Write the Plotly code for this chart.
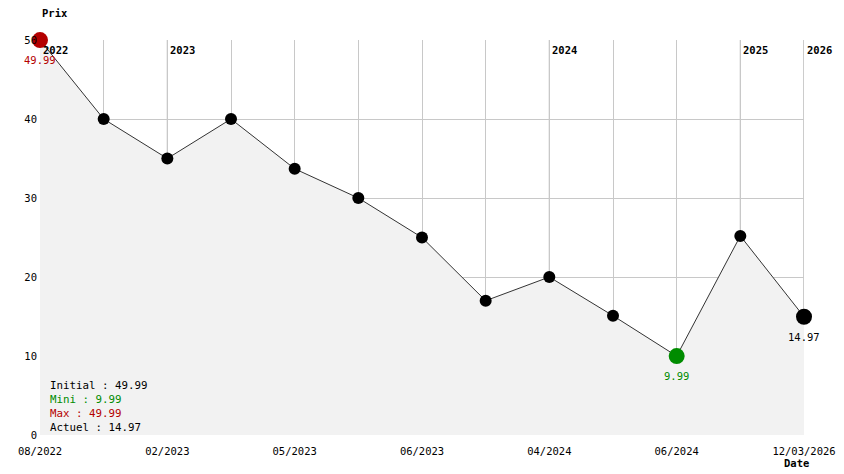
import plotly.graph_objects as go

# price history (one point per observation, evenly spaced)
prices = [49.99, 40, 35, 40, 33.7, 30, 25, 17, 20, 15.1, 9.99, 25.2, 14.97]
tick_labels = ["08/2022", "", "02/2023", "", "05/2023", "", "06/2023", "",
               "04/2024", "", "06/2024", "", "12/03/2026"]
years = ["2022", "2023", "2024", "2025", "2026"]
year_idx = [0, 2, 8, 11, 12]

RED = "#b40000"
GREEN = "#008c00"
FONT = "DejaVu Sans Mono"

idx = list(range(len(prices)))
i_min = prices.index(min(prices))
i_max = prices.index(max(prices))
i_last = len(prices) - 1

fig = go.Figure()

fig.add_trace(go.Scatter(
    x=idx, y=prices, mode="lines+markers",
    line=dict(color="#333333", width=1),
    marker=dict(color="black", size=12),
    fill="tozeroy", fillcolor="#f2f2f2",
    cliponaxis=False, hoverinfo="skip"))

# highlighted points: max, min, current
hl = [(i_max, RED), (i_min, GREEN), (i_last, "black")]
fig.add_trace(go.Scatter(
    x=[i for i, _ in hl], y=[prices[i] for i, _ in hl],
    mode="markers", marker=dict(color=[c for _, c in hl], size=16),
    cliponaxis=False, hoverinfo="skip"))
for i, c in hl:
    fig.add_annotation(x=i, y=prices[i], xref="x", yref="y",
                       text=f"{prices[i]:.2f}", showarrow=False,
                       xanchor="center", yanchor="top", yshift=-12,
                       font=dict(family=FONT, size=10.5, color=c))

# year separators and labels
for yr, i in zip(years, year_idx):
    fig.add_shape(type="line", xref="x", yref="y", x0=i, x1=i, y0=0, y1=50,
                  line=dict(color="#999999", width=1), layer="below")
    fig.add_annotation(x=i, y=50, xref="x", yref="y", text=f"<b>{yr}</b>",
                       showarrow=False, xanchor="left", yanchor="top",
                       xshift=1, yshift=-2,
                       font=dict(family=FONT, size=10.5, color="black"))

stats = ("Initial : %.2f<br><span style='color:%s'>Mini : %.2f</span><br>"
         "<span style='color:%s'>Max : %.2f</span><br>Actuel : %.2f") % (
    prices[0], GREEN, min(prices), RED, max(prices), prices[-1])
fig.add_annotation(x=0, y=0, xref="paper", yref="paper", text=stats,
                   showarrow=False, xanchor="left", yanchor="bottom", align="left",
                   xshift=8, yshift=-1,
                   font=dict(family=FONT, size=10.8, color="black"))

fig.add_annotation(x=0, y=1, xref="paper", yref="paper", text="<b>Prix</b>",
                   showarrow=False, xanchor="left", yanchor="bottom", yshift=19,
                   font=dict(family=FONT, size=10.5, color="black"))
fig.add_annotation(x=1, y=0, xref="paper", yref="paper", text="<b>Date</b>",
                   showarrow=False, xanchor="left", yanchor="top",
                   xshift=-22, yshift=-20,
                   font=dict(family=FONT, size=10.5, color="black"))

fig.update_layout(
    width=844, height=474,
    margin=dict(l=40, r=40, t=40, b=39),
    paper_bgcolor="white", plot_bgcolor="white",
    showlegend=False,
    font=dict(family=FONT, size=10.5, color="black"),
    xaxis=dict(range=[0, 12], tickvals=idx, ticktext=tick_labels,
               showgrid=True, gridcolor="#c8c8c8", gridwidth=1,
               zeroline=False, showline=False, ticks="",
               ticklabelstandoff=8, automargin=False),
    yaxis=dict(range=[0, 50], tickvals=[0, 10, 20, 30, 40, 50],
               showgrid=True, gridcolor="#c8c8c8", gridwidth=1,
               zeroline=False, showline=False, ticks="",
               ticklabelstandoff=2, automargin=False),
)

fig.write_html("out.html", config={"displayModeBar": False},
               post_script="document.body.style.margin='0';")
